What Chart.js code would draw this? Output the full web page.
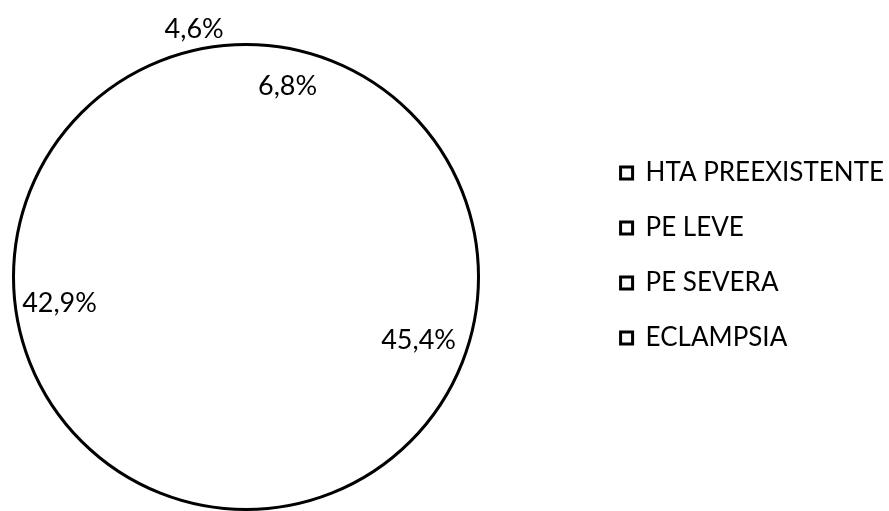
<!DOCTYPE html>
<html>
<head>
<meta charset="utf-8">
<script src="https://cdn.jsdelivr.net/npm/chart.js@4/dist/chart.umd.min.js"></script>
<style>
  html, body { margin: 0; padding: 0; background: #fff; }
  #wrap { width: 889px; height: 511px; position: relative; }
</style>
</head>
<body>
<div id="wrap"><canvas id="pieChart"></canvas></div>
<script>
// categorias y porcentajes
const categorias = ['HTA PREEXISTENTE', 'PE LEVE', 'PE SEVERA', 'ECLAMPSIA'];
const porcentajes = [6.8, 45.4, 42.9, 4.6];
const etiquetas = ['6,8%', '45,4%', '42,9%', '4,6%'];

// posicion de las etiquetas (factor de radio, giro en grados)
const labelRadio = [0.84, 0.79, 0.81, 1.09];
const labelGiro = [0, 3.5, -4, -3.5];

const fuente = 'Lato, "Noto Sans", sans-serif';

// area del pastel: la leyenda queda a la derecha, el circulo mas a la izquierda
const areaPlugin = {
    id: 'areaPastel',
    afterLayout(chart) {
        const a = chart.chartArea;
        a.left = 492 - a.right;   // centro x = 246
        a.top = 44.5;
        a.bottom = 509.5;         // centro y = 277
        a.width = a.right - a.left;
        a.height = a.bottom - a.top;
        // leyenda un poco mas a la derecha
        chart.legend.left += 5;
        chart.legend.right += 5;
    }
};

// dibuja solo el contorno exterior del circulo
const contornoPlugin = {
    id: 'contorno',
    afterDatasetsDraw(chart) {
        const arc = chart.getDatasetMeta(0).data[0];
        if (!arc) return;
        const ctx = chart.ctx;
        ctx.save();
        ctx.beginPath();
        ctx.arc(arc.x, arc.y, arc.outerRadius, 0, Math.PI * 2);
        ctx.lineWidth = 3;
        ctx.strokeStyle = '#000';
        ctx.stroke();
        ctx.restore();
    }
};

// etiquetas de porcentaje
const etiquetasPlugin = {
    id: 'etiquetas',
    afterDraw(chart) {
        const ctx = chart.ctx;
        const meta = chart.getDatasetMeta(0);
        ctx.save();
        ctx.font = '27px ' + fuente;
        ctx.fillStyle = '#000';
        ctx.textAlign = 'center';
        ctx.textBaseline = 'middle';
        meta.data.forEach((arc, i) => {
            const mid = (arc.startAngle + arc.endAngle) / 2 + labelGiro[i] * Math.PI / 180;
            const r = arc.outerRadius * labelRadio[i];
            ctx.fillText(etiquetas[i], arc.x + Math.cos(mid) * r, arc.y + Math.sin(mid) * r);
        });
        ctx.restore();
    }
};

const ctx = document.getElementById('pieChart').getContext('2d');
new Chart(ctx, {
    type: 'pie',
    data: {
        labels: categorias,
        datasets: [{
            data: porcentajes,
            backgroundColor: '#ffffff',
            borderWidth: 0,
            radius: 232.5
        }]
    },
    options: {
        responsive: true,
        maintainAspectRatio: false,
        animation: false,
        layout: { padding: 0 },
        plugins: {
            tooltip: { enabled: false },
            legend: {
                position: 'right',
                align: 'center',
                labels: {
                    boxWidth: 12,
                    boxHeight: 12,
                    padding: 29,
                    color: '#000',
                    font: { family: fuente, size: 26 },
                    generateLabels(chart) {
                        const items = Chart.controllers.pie.overrides.plugins.legend.labels.generateLabels(chart);
                        items.forEach(it => {
                            it.fillStyle = '#ffffff';
                            it.strokeStyle = '#000000';
                            it.lineWidth = 3;
                        });
                        return items;
                    }
                }
            }
        }
    },
    plugins: [areaPlugin, contornoPlugin, etiquetasPlugin]
});
</script>
</body>
</html>
